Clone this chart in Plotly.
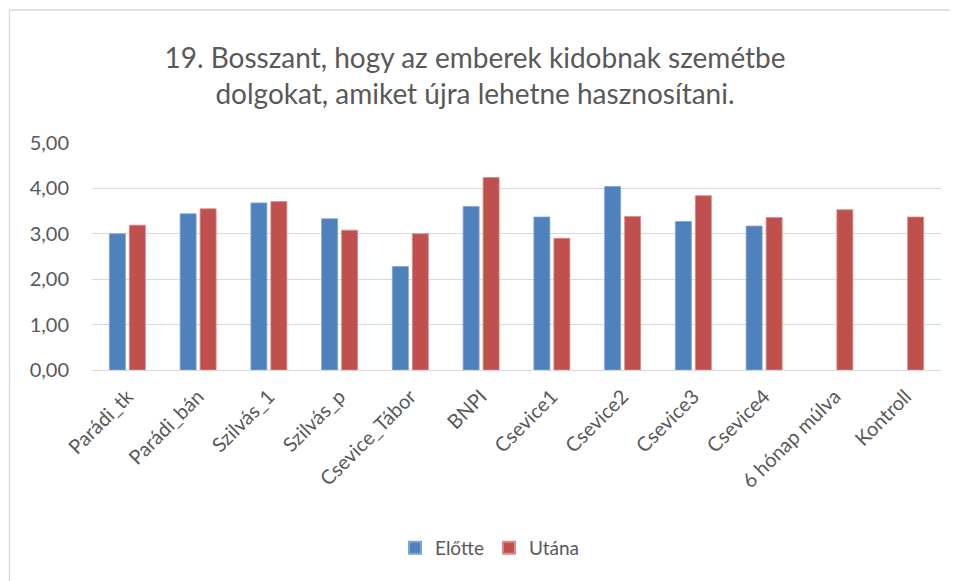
import plotly.graph_objects as go

categories = ["Parádi_tk", "Parádi_bán", "Szilvás_1", "Szilvás_p", "Csevice_Tábor", "BNPI",
              "Csevice1", "Csevice2", "Csevice3", "Csevice4", "6 hónap múlva", "Kontroll"]
elotte = [3.00, 3.44, 3.68, 3.33, 2.28, 3.60, 3.37, 4.04, 3.27, 3.17, None, None]
utana = [3.19, 3.55, 3.71, 3.08, 3.00, 4.24, 2.90, 3.38, 3.84, 3.36, 3.53, 3.37]
tick_vals = [0, 1, 2, 3, 4, 5]
tick_text = ["0,00", "1,00", "2,00", "3,00", "4,00", "5,00"]

FONT = "Lato, 'Open Sans', sans-serif"
OFF = 8  # page body margin
W, H = 958 - OFF, 581 - OFF
L, R, T, B = 92 - OFF, 17, 143 - OFF, 211

fig = go.Figure()
fig.add_trace(go.Bar(name="Előtte", x=categories, y=elotte, marker=dict(color="#4F81BD", line=dict(color="#7FA3D3", width=0.8))))
fig.add_trace(go.Bar(name="Utána", x=categories, y=utana, marker=dict(color="#C0504D", line=dict(color="#D98A88", width=0.8))))

pw = W - L - R
ph = H - T - B
def px(x):  # screen x -> paper
    return (x - OFF - L) / pw
def py(y):  # screen y -> paper
    return (H - B - (y - OFF)) / ph

fig.update_layout(
    width=W, height=H,
    margin=dict(l=L, r=R, t=T, b=B, autoexpand=False),
    paper_bgcolor="white", plot_bgcolor="white",
    barmode="group", bargap=0.435, bargroupgap=0.2,
    title=dict(text="19. Bosszant, hogy az emberek kidobnak szemétbe<br>dolgokat, amiket újra lehetne hasznosítani.",
               x=467 / W, xanchor="center", xref="container", y=1 - 60 / H, yanchor="top", yref="container",
               font=dict(family=FONT, size=28, color="#595959")),
    font=dict(family=FONT, color="#595959"),
    legend=dict(orientation="h", x=px(0.5 * (404 + 576)), xanchor="center", xref="paper", y=py(548), yanchor="middle",
                font=dict(family=FONT, size=19, color="#595959"), itemsizing="constant",
                traceorder="normal"),
    xaxis=dict(tickangle=-45, tickfont=dict(family=FONT, size=20, color="#595959"),
               showgrid=False, showline=True, linecolor="#D9D9D9", linewidth=1, ticks="",
               ticklabelstandoff=6),
    yaxis=dict(range=[0, 5], tickvals=tick_vals, ticktext=tick_text,
               tickfont=dict(family=FONT, size=20, color="#595959"),
               showgrid=True, gridcolor="#D9D9D9", gridwidth=1.3, zeroline=False,
               ticklabelstandoff=22, showline=False),
    shapes=[dict(type="rect", xref="paper", yref="paper",
                 x0=px(9.5), x1=px(958 + 5), y0=py(10), y1=py(581 + 5),
                 line=dict(color="#D9D9D9", width=1.3), fillcolor="rgba(0,0,0,0)", layer="below")],
)

fig.write_html("out.html")
